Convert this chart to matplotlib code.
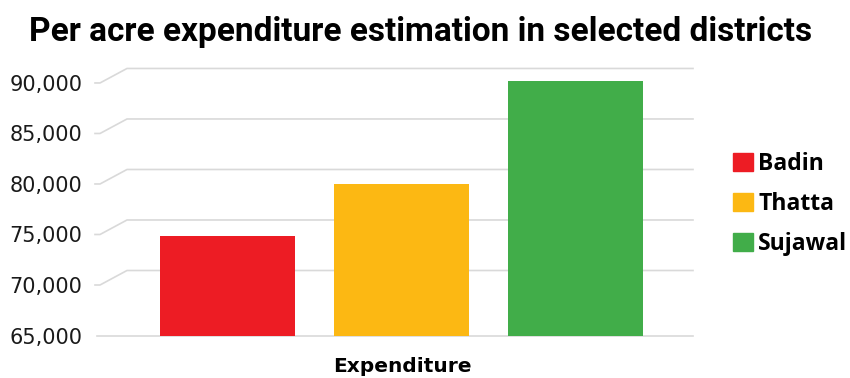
import matplotlib.pyplot as plt
from matplotlib.patches import Patch
import matplotlib.transforms as mtransforms

# data
districts = ['Badin', 'Thatta', 'Sujawal']
expenditure = [74850, 80000, 90200]
colors = ['#ed1c24', '#fcb813', '#41ad49']
yticks = [65000, 70000, 75000, 80000, 85000, 90000]
category = 'Expenditure'
title = 'Per acre expenditure estimation in selected districts'

fig = plt.figure(figsize=(8.5, 3.78), dpi=100)
ax = fig.add_axes([95 / 850, 42.5 / 378, 598 / 850, 268.7 / 378])

x = range(len(districts))
ax.bar(x, expenditure, width=0.776, color=colors, zorder=3)
ax.set_xlim(-0.761, 2.675)
ax.set_ylim(65000, 91600)

# pseudo-3D gridlines: short stub, slant up to back wall, then flat
trans = mtransforms.blended_transform_factory(ax.transAxes, ax.transData)
depth = 1435
for v in yticks:
    if v == yticks[0]:
        ax.plot([0.004, 1], [v, v], color='#d9d9d9', lw=1.2, transform=trans,
                zorder=1, clip_on=False)
    else:
        ax.plot([0, 0.0084, 0.0535, 1], [v, v, v + depth, v + depth],
                color='#d9d9d9', lw=1.2, transform=trans, zorder=1, clip_on=False)

ax.set_yticks(yticks)
ax.set_yticklabels([f'{v:,}' for v in yticks], fontsize=15, color='#1a1a1a')
ax.tick_params(axis='y', length=0, pad=9.0)
ax.set_xticks([])
for s in ax.spines.values():
    s.set_visible(False)

fig.text(402 / 850, 1 - 366 / 378, category, ha='center', va='center',
         fontsize=14.5, fontweight='bold')
fig.text(421 / 850, 1 - 32 / 378, title, ha='center', va='center',
         fontsize=24, fontweight='bold', family='Roboto')

handles = [Patch(color=c, label=d) for c, d in zip(colors, districts)]
leg = fig.legend(handles=handles, loc='center left', bbox_to_anchor=(733 / 850, 1 - 204 / 378),
                 frameon=False, prop={'size': 16.5, 'weight': 'bold', 'family': 'Open Sans'},
                 borderaxespad=0, borderpad=0, handlelength=0.88, handleheight=0.88,
                 handletextpad=0.22, labelspacing=0.7)

fig.savefig('out.png', dpi=100)
